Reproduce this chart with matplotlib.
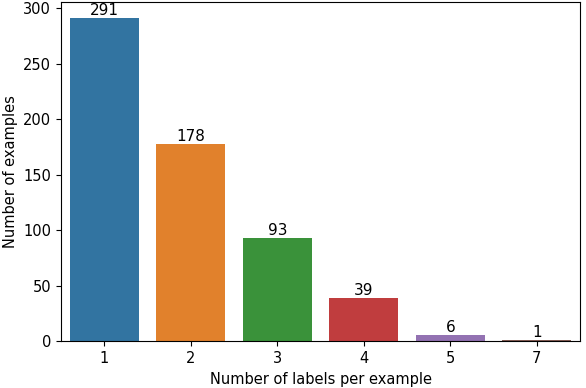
import matplotlib
matplotlib.use("Agg")
import matplotlib.pyplot as plt
import seaborn as sns

# number of labels per example -> count
labels = ["1", "2", "3", "4", "5", "7"]
counts = [291, 178, 93, 39, 6, 1]

fig, ax = plt.subplots(figsize=(5.86, 3.88), dpi=100)
sns.barplot(x=labels, y=counts, hue=labels, palette="tab10", saturation=0.75,
            legend=False, ax=ax)

for i, c in enumerate(counts):
    ax.text(i, c, str(c), ha="center", va="bottom", fontsize=11)

ax.set_xlabel("Number of labels per example", fontsize=10.5)
ax.set_ylabel("Number of examples", fontsize=10.5)
ax.tick_params(labelsize=10.5)

plt.subplots_adjust(left=0.104, right=0.99, top=0.995, bottom=0.12)
plt.savefig("out.png", dpi=100)
